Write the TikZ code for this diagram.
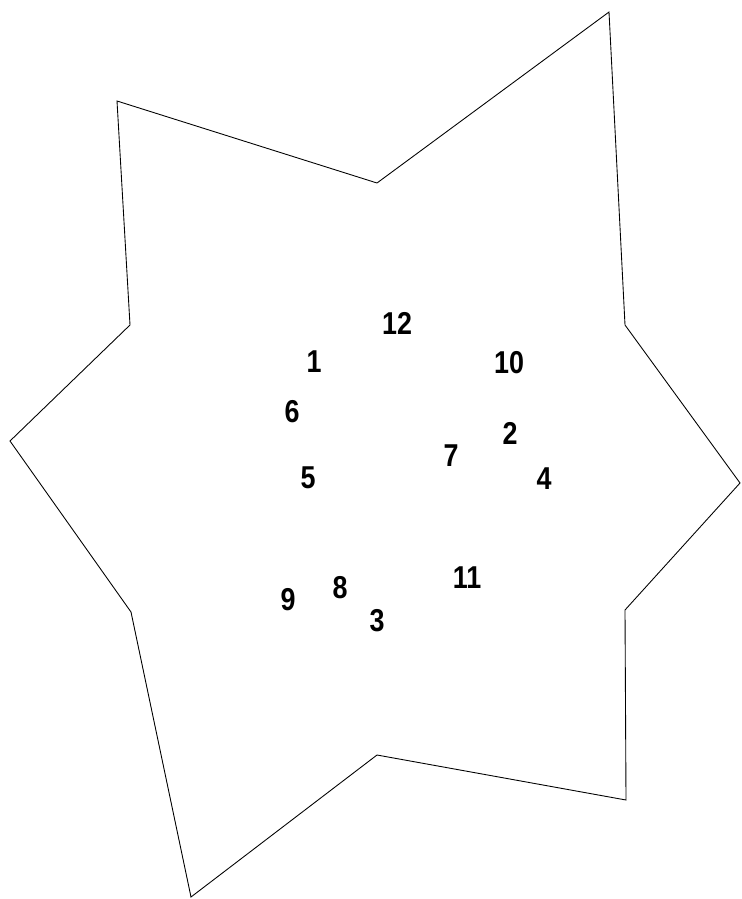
\documentclass[tikz,border=0pt]{standalone}
\usepackage{fontspec}
\setmainfont{Liberation Sans}
\begin{document}
\begin{tikzpicture}[x=0.02cm, y=-0.02cm,
    num/.style={font=\fontsize{18}{20}\selectfont\bfseries, inner sep=0pt, xscale=0.85}]
    \useasboundingbox (0,0) rectangle (742,899);

    % star outline
    \draw[line width=0.5pt, line join=miter]
        (117,101) -- (377,183) -- (609,12) -- (625,325) -- (740,483)
        -- (625,610) -- (626,800) -- (377,755) -- (191,897) -- (131,612)
        -- (10,441) -- (130,325) -- cycle;

    % numbers
    \node[num] (n12) at (397,323) {12};
    \node[num] (n1)  at (314,362) {1};
    \node[num] (n10) at (509,363) {10};
    \node[num] (n6)  at (292,412) {6};
    \node[num] (n2)  at (510,433) {2};
    \node[num] (n7)  at (451,456) {7};
    \node[num] (n4)  at (544,479) {4};
    \node[num] (n5)  at (308,478) {5};
    \node[num] (n11) at (467,578) {11};
    \node[num] (n8)  at (340,588) {8};
    \node[num] (n9)  at (288,600) {9};
    \node[num] (n3)  at (377,621) {3};
\end{tikzpicture}
\end{document}
